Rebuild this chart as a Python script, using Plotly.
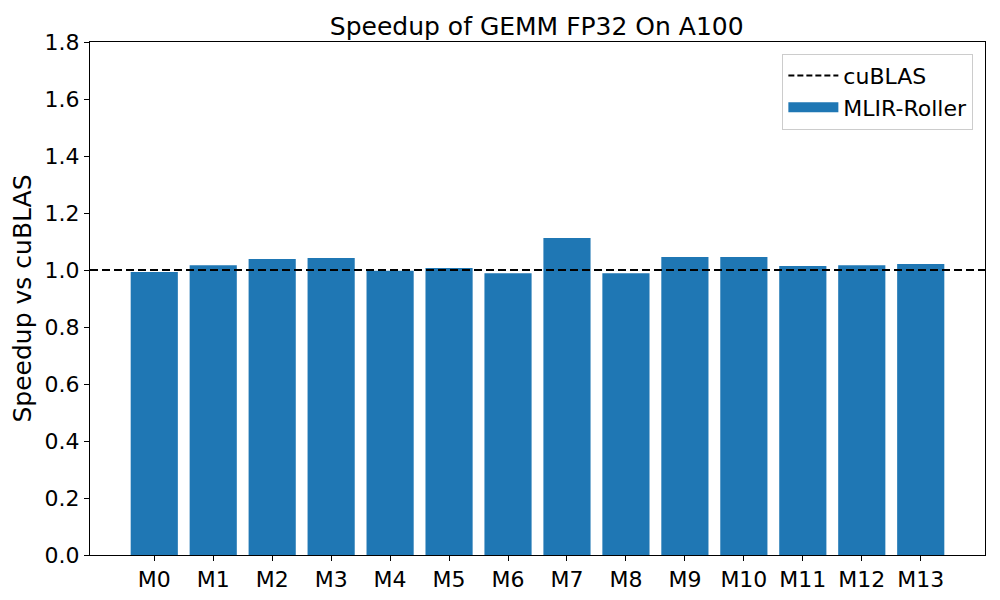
import plotly.graph_objects as go

models = ["M0", "M1", "M2", "M3", "M4", "M5", "M6",
          "M7", "M8", "M9", "M10", "M11", "M12", "M13"]
speedup = [0.993, 1.017, 1.039, 1.042, 0.997, 1.007, 0.989,
           1.112, 0.989, 1.046, 1.046, 1.014, 1.017, 1.021]
baseline = 1.0
y_ticks = [0.0, 0.2, 0.4, 0.6, 0.8, 1.0, 1.2, 1.4, 1.6, 1.8]

font = "DejaVu Sans, Arial, sans-serif"
bar_color = "#1f77b4"
positions = list(range(len(models)))

fig = go.Figure()

# legend proxies (the real line is an hline, bars have no legend of their own)
fig.add_trace(go.Scatter(x=[None], y=[None], mode="lines", name="cuBLAS",
                         line=dict(color="black", width=2, dash="6px,3px")))
fig.add_trace(go.Scatter(x=[None], y=[None], mode="lines", name="MLIR-Roller",
                         line=dict(color=bar_color, width=15)))
fig.add_trace(go.Bar(x=positions, y=speedup, name="MLIR-Roller", showlegend=False,
                     marker=dict(color=bar_color, line=dict(width=0))))

fig.add_hline(y=baseline, line=dict(color="black", width=2, dash="8px,4px"))

axis_common = dict(showline=True, linecolor="black", linewidth=1, mirror=True,
                   ticks="outside", ticklen=5, tickcolor="black", showgrid=False,
                   zeroline=False, automargin=False,
                   tickfont=dict(size=22, color="black"))

# page body has an 8px margin, so the figure is 992x592 and offset by 8px
fig.update_layout(
    width=992, height=592,
    margin=dict(l=82, r=15, t=34, b=45),
    paper_bgcolor="white", plot_bgcolor="white",
    font=dict(family=font, color="black"),
    title=dict(text="Speedup of GEMM FP32 On A100", x=0.533, xanchor="center",
               y=0.97, yanchor="middle", font=dict(size=25)),
    bargap=0.2,
    showlegend=True,
    legend=dict(x=0.987, y=0.977, xanchor="right", yanchor="top",
                bgcolor="white", bordercolor="#cccccc", borderwidth=1,
                font=dict(size=22), tracegroupgap=2, itemwidth=50),
)
fig.update_xaxes(range=[-1.09, 14.09], tickvals=positions, ticktext=models,
                 **axis_common)
fig.update_yaxes(range=[0, 1.8], tickvals=y_ticks,
                 ticktext=[f"{v:.1f}" for v in y_ticks],
                 title=dict(text="Speedup vs cuBLAS", font=dict(size=25), standoff=12),
                 **axis_common)

fig.write_html("out.html")
